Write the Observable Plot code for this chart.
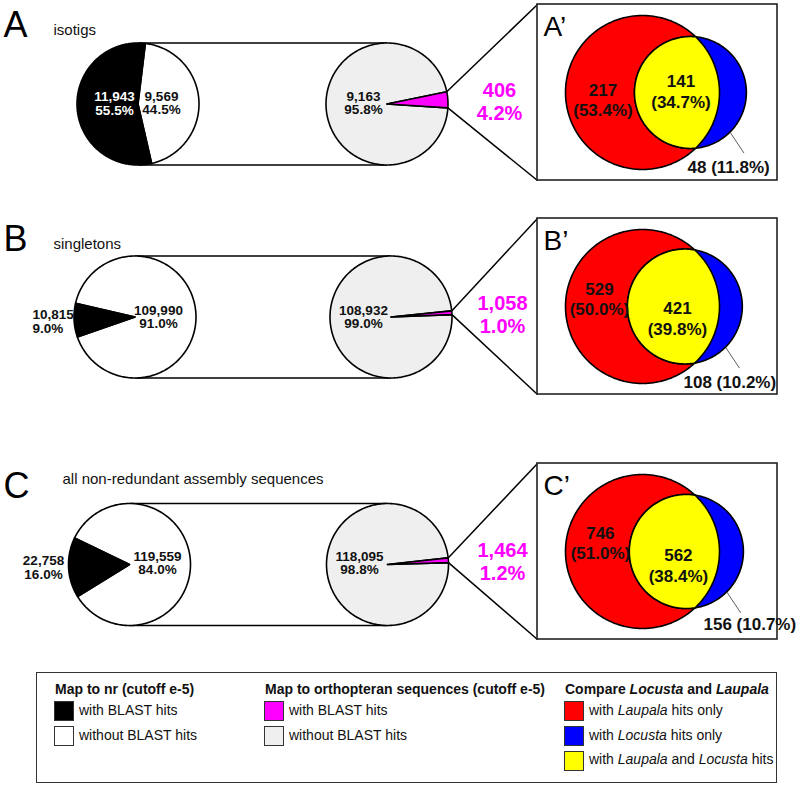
<!DOCTYPE html>
<html>
<head>
<meta charset="utf-8">
<script src="https://cdn.jsdelivr.net/npm/d3@7"></script>
<script src="https://cdn.jsdelivr.net/npm/@observablehq/plot@0.6"></script>
<style>
  html, body { margin: 0; padding: 0; background: #fff; }
  #chart svg { display: block; }
  .lg-abs { position: absolute; white-space: nowrap; font-size: 14px; line-height: 14px; color: #111; }
  .lg-sw { position: absolute; width: 20px; height: 20px; box-sizing: border-box; border: 1.5px solid #333; }
</style>
</head>
<body>
<div id="chart"></div>
<div id="legend"></div>
<script>
// ---------------- data ----------------
const rowLetters = ["A", "B", "C"];
const rowTitles = ["isotigs", "singletons", "all non-redundant assembly sequences"];
const nrWith = [11943, 10815, 22758];          // map to nr: with BLAST hits
const nrWithout = [9569, 109990, 119559];      // map to nr: without BLAST hits
const orthoWith = [406, 1058, 1464];           // map to orthopteran: with hits
const orthoWithout = [9163, 108932, 118095];   // map to orthopteran: without hits
const laupalaOnly = [217, 529, 746];
const bothHits = [141, 421, 562];
const locustaOnly = [48, 108, 156];

const legendTitles = ["Map to nr (cutoff e-5)", "Map to orthopteran sequences (cutoff e-5)", "Compare <i>Locusta</i> and <i>Laupala</i>"];
const legendLabels = [
  ["with BLAST hits", "without BLAST hits"],
  ["with BLAST hits", "without BLAST hits"],
  ["with <i>Laupala</i> hits only", "with <i>Locusta</i> hits only", "with <i>Laupala</i> and <i>Locusta</i> hits"]
];

// ---------------- styles / layout ----------------
const F = "'Liberation Sans', Arial, Helvetica, sans-serif";
const COL = { black: "#000000", white: "#ffffff", magenta: "#ff00ff", grey: "#efefef", red: "#ff0000", blue: "#0000ff", yellow: "#ffff00", ink: "#111111" };
const legendColors = [[COL.black, COL.white], [COL.magenta, COL.grey], [COL.red, COL.blue, COL.yellow]];

const W = 798, H = 665, FULLH = 787;
const pieR = 61;
const pieY = [103.5, 316.5, 564];
const leftX = [137.5, 134.5, 129];
const rightX = [386.5, 390.5, 387];
const blackMid = 267, magentaMid = 86;     // slice centre angles (deg, clockwise from 12 o'clock)
const boxX1 = 537, boxX2 = 777, boxTop = [4, 218, 463], boxH = 176;
const redR = 77, redCX = 642;
const letterBase = [36, 250, 497], titleX = [53, 53, 62], titleBase = [34, 248, 483];
const blackLblX = [114, 32, 43], blackLblDy = [-3.5, 1.5, 0], blackLblAnchor = ["middle", "start", "middle"], blackLblFill = [COL.white, COL.ink, COL.ink];
const whiteLblX = [161, 158, 157], whiteLblDy = [-3.5, -2.5, -4];
const greyLblX = [363, 363, 359], greyLblDy = [-3.5, -2.5, -4];
const magLblX = [499, 502, 502];
const vRedDy = [3, -12, -13], vBothDy = [-6, 7, 9];
const vBlueX = [687, 683, 703], vBlueDy = [-8, -7, -10];

const deg = Math.PI / 180;
const fmtN = d3.format(",");
const fmtP = d3.format(".1%");

function pt(cx, cy, r, a) { return [cx + r * Math.sin(a * deg), cy - r * Math.cos(a * deg)]; }
function arc(cx, cy, r, a0, a1) {
  const n = Math.max(2, Math.ceil(Math.abs(a1 - a0)));
  return d3.range(n + 1).map(i => pt(cx, cy, r, a0 + (a1 - a0) * i / n));
}
function wedge(cx, cy, r, a0, a1) { return [[cx, cy], ...arc(cx, cy, r, a0, a1), [cx, cy]]; }
function circle(cx, cy, r) { return arc(cx, cy, r, 0, 360); }

const layers = { white: [], black: [], grey: [], magenta: [], red: [], blue: [], yellow: [] };
function addPoly(layer, id, pts) { pts.forEach(([x, y]) => layers[layer].push({ id, x, y })); }

const stadium = [], zoomLinks = [], boxes = [], leaders = [];
const texts = [];
function T(g, x, y, t, anchor) { texts.push({ g, x, y, t, anchor: anchor || "middle" }); }

function lensArea(d, r1, r2) {
  if (d >= r1 + r2) return 0;
  if (d <= Math.abs(r1 - r2)) return Math.PI * Math.min(r1, r2) ** 2;
  const c1 = Math.max(-1, Math.min(1, (d * d + r1 * r1 - r2 * r2) / (2 * d * r1)));
  const c2 = Math.max(-1, Math.min(1, (d * d + r2 * r2 - r1 * r1) / (2 * d * r2)));
  const k = Math.sqrt(Math.max(0, (-d + r1 + r2) * (d + r1 - r2) * (d - r1 + r2) * (d + r1 + r2)));
  return r1 * r1 * Math.acos(c1) + r2 * r2 * Math.acos(c2) - 0.5 * k;
}

rowLetters.forEach((L, i) => {
  const py = pieY[i], lx = leftX[i], rx = rightX[i];
  // left pie (nr)
  const tot1 = nrWith[i] + nrWithout[i];
  const spanB = nrWith[i] / tot1 * 360;
  const s1 = blackMid - spanB / 2;
  const p1 = d3.pie().sort(null).startAngle(s1 * deg).endAngle((s1 + 360) * deg)([nrWith[i], nrWithout[i]]);
  addPoly("white", "w" + i, wedge(lx, py, pieR, p1[1].startAngle / deg, p1[1].endAngle / deg));
  addPoly("black", "b" + i, wedge(lx, py, pieR, p1[0].startAngle / deg, p1[0].endAngle / deg));
  // right pie (orthopteran)
  const tot2 = orthoWith[i] + orthoWithout[i];
  const spanM = orthoWith[i] / tot2 * 360;
  const s2 = magentaMid - spanM / 2;
  const p2 = d3.pie().sort(null).startAngle(s2 * deg).endAngle((s2 + 360) * deg)([orthoWith[i], orthoWithout[i]]);
  addPoly("grey", "g" + i, wedge(rx, py, pieR, p2[1].startAngle / deg, p2[1].endAngle / deg));
  addPoly("magenta", "m" + i, wedge(rx, py, pieR, p2[0].startAngle / deg, p2[0].endAngle / deg));
  // stadium
  stadium.push({ x1: lx, y1: py - pieR, x2: rx, y2: py - pieR });
  stadium.push({ x1: lx, y1: py + pieR, x2: rx, y2: py + pieR });
  // zoom lines
  const top = boxTop[i], bot = boxTop[i] + boxH, cy = top + boxH / 2;
  const mA = pt(rx, py, pieR, p2[0].startAngle / deg), mB = pt(rx, py, pieR, p2[0].endAngle / deg);
  zoomLinks.push({ x1: mA[0], y1: mA[1], x2: boxX1, y2: top });
  zoomLinks.push({ x1: mB[0], y1: mB[1], x2: boxX1, y2: bot });
  boxes.push({ x1: boxX1, x2: boxX2, y1: top, y2: bot });
  // Venn (area-proportional)
  const redN = laupalaOnly[i] + bothHits[i], blueN = bothHits[i] + locustaOnly[i];
  const r1 = redR, r2 = redR * Math.sqrt(blueN / redN);
  const target = bothHits[i] / redN * Math.PI * r1 * r1;
  let lo = Math.abs(r1 - r2), hi = r1 + r2;
  for (let k = 0; k < 80; k++) { const m = (lo + hi) / 2; if (lensArea(m, r1, r2) > target) lo = m; else hi = m; }
  const d = (lo + hi) / 2, bx = redCX + d;
  addPoly("red", "r" + i, circle(redCX, cy, r1));
  addPoly("blue", "u" + i, circle(bx, cy, r2));
  const a = (d * d + r1 * r1 - r2 * r2) / (2 * d), h = Math.sqrt(r1 * r1 - a * a);
  const alpha = Math.atan2(a, h) / deg, beta = Math.atan2(a - d, h) / deg;
  const lens = [...arc(redCX, cy, r1, alpha, 180 - alpha), ...arc(bx, cy, r2, -180 - beta, beta)];
  lens.push(lens[0]);
  addPoly("yellow", "y" + i, lens);
  const ls = pt(bx, cy, r2, 135);
  leaders.push({ x1: ls[0], y1: ls[1], x2: ls[0] + 14, y2: ls[1] + 21 });

  // texts
  T("letter", 3, letterBase[i], L, "start");
  T("title", titleX[i], titleBase[i], rowTitles[i], "start");
  T("boxLetter", boxX1 + 6, top + 31, L + "\u2019", "start");
  const gB = blackLblFill[i] === COL.white ? "pieW" : "pieK";
  const gBa = blackLblAnchor[i] === "start" ? gB + "S" : gB;
  T(gBa, blackLblX[i], py + blackLblDy[i], fmtN(nrWith[i]), blackLblAnchor[i]);
  T(gBa, blackLblX[i], py + blackLblDy[i] + 14, fmtP(nrWith[i] / tot1), blackLblAnchor[i]);
  T("pieK", whiteLblX[i], py + whiteLblDy[i], fmtN(nrWithout[i]));
  T("pieK", whiteLblX[i], py + whiteLblDy[i] + 13.5, fmtP(nrWithout[i] / tot1));
  T("pieK", greyLblX[i], py + greyLblDy[i], fmtN(orthoWithout[i]));
  T("pieK", greyLblX[i], py + greyLblDy[i] + 13.5, fmtP(orthoWithout[i] / tot2));
  T("mag", magLblX[i], py - 7.5, fmtN(orthoWith[i]));
  T("mag", magLblX[i], py + 15.5, fmtP(orthoWith[i] / tot2));
  const redLeft = redCX - r1, blueLeft = bx - r2, redRight = redCX + r1;
  const vx1 = (redLeft + blueLeft) / 2 + 3, vx2 = (blueLeft + redRight) / 2 + 4;
  T("venn", vx1, cy + vRedDy[i], fmtN(laupalaOnly[i]));
  T("venn", vx1, cy + vRedDy[i] + 20.5, "(" + fmtP(laupalaOnly[i] / redN * redN / (redN + locustaOnly[i])) + ")");
  T("venn", vx2, cy + vBothDy[i], fmtN(bothHits[i]));
  T("venn", vx2, cy + vBothDy[i] + 21, "(" + fmtP(bothHits[i] / (redN + locustaOnly[i])) + ")");
  T("vennS", vBlueX[i], bot + vBlueDy[i], fmtN(locustaOnly[i]) + " (" + fmtP(locustaOnly[i] / (redN + locustaOnly[i])) + ")", "start");
});

const textStyles = {
  letter: { fontSize: 36, fontWeight: "normal", fill: COL.black, anchor: "start" },
  title: { fontSize: 15, fontWeight: "normal", fill: COL.ink, anchor: "start" },
  boxLetter: { fontSize: 28, fontWeight: "normal", fill: COL.black, anchor: "start" },
  pieW: { fontSize: 13.5, fontWeight: "bold", fill: COL.white, anchor: "middle" },
  pieK: { fontSize: 13.5, fontWeight: "bold", fill: COL.ink, anchor: "middle" },
  pieKS: { fontSize: 13.5, fontWeight: "bold", fill: COL.ink, anchor: "start" },
  mag: { fontSize: 20, fontWeight: "bold", fill: COL.magenta, anchor: "middle" },
  venn: { fontSize: 17, fontWeight: "bold", fill: COL.ink, anchor: "middle" },
  vennS: { fontSize: 17, fontWeight: "bold", fill: COL.ink, anchor: "start" }
};

function polyMark(layer, fill) {
  return Plot.line(layers[layer], { x: "x", y: "y", z: "id", fill, stroke: "#000", strokeWidth: 1.6, strokeLinejoin: "round" });
}

const marks = [
  Plot.link(stadium, { x1: "x1", y1: "y1", x2: "x2", y2: "y2", stroke: "#000", strokeWidth: 1.6 }),
  Plot.link(zoomLinks, { x1: "x1", y1: "y1", x2: "x2", y2: "y2", stroke: "#000", strokeWidth: 1.5 }),
  polyMark("white", COL.white),
  polyMark("black", COL.black),
  polyMark("grey", COL.grey),
  polyMark("magenta", COL.magenta),
  Plot.rect(boxes, { x1: "x1", x2: "x2", y1: "y1", y2: "y2", fill: "#fff", stroke: "#222", strokeWidth: 1.6 }),
  polyMark("red", COL.red),
  polyMark("blue", COL.blue),
  polyMark("yellow", COL.yellow),
  Plot.link(leaders, { x1: "x1", y1: "y1", x2: "x2", y2: "y2", stroke: "#333", strokeWidth: 0.8 }),
  ...Object.entries(textStyles).map(([g, s]) =>
    Plot.text(texts.filter(d => d.g === g), {
      x: "x", y: "y", text: "t", textAnchor: s.anchor, lineAnchor: "bottom",
      fontSize: s.fontSize, fontWeight: s.fontWeight, fill: s.fill, fontFamily: F
    }))
];

const chart = Plot.plot({
  width: W, height: H, margin: 0,
  x: { domain: [0, W], range: [0, W], axis: null },
  y: { domain: [0, H], range: [0, H], axis: null },
  style: { fontFamily: F, background: "#fff", overflow: "visible" },
  marks
});
document.getElementById("chart").append(chart);

// ---------------- legend (HTML, below the SVG) ----------------
const leg = document.getElementById("legend");
leg.style.cssText = `position:relative;width:${W}px;height:${FULLH - H}px;font-family:${F};`;
const lgBox = document.createElement("div");
lgBox.style.cssText = `position:absolute;left:36px;top:${672 - H}px;width:741px;height:111px;box-sizing:border-box;border:1.5px solid #333;`;
leg.append(lgBox);
const colX = [54, 264, 564];
const rowTops = [701, 726, 751];
const rowBase = [714.5, 739.5, 764];
function lgText(html, x, baseline, bold) {
  const el = document.createElement("div");
  el.className = "lg-abs";
  el.innerHTML = html;
  el.style.left = x + "px";
  el.style.top = (baseline - H - 11.6) + "px";
  if (bold) el.style.fontWeight = "bold";
  leg.append(el);
}
legendTitles.forEach((t, c) => {
  lgText(t, colX[c] + 1, 694, true);
  legendLabels[c].forEach((lab, r) => {
    const sw = document.createElement("div");
    sw.className = "lg-sw";
    sw.style.left = colX[c] + "px";
    sw.style.top = (rowTops[r] - H) + "px";
    sw.style.background = legendColors[c][r];
    leg.append(sw);
    lgText(lab, colX[c] + 25, rowBase[r], false);
  });
});
</script>
</body>
</html>
